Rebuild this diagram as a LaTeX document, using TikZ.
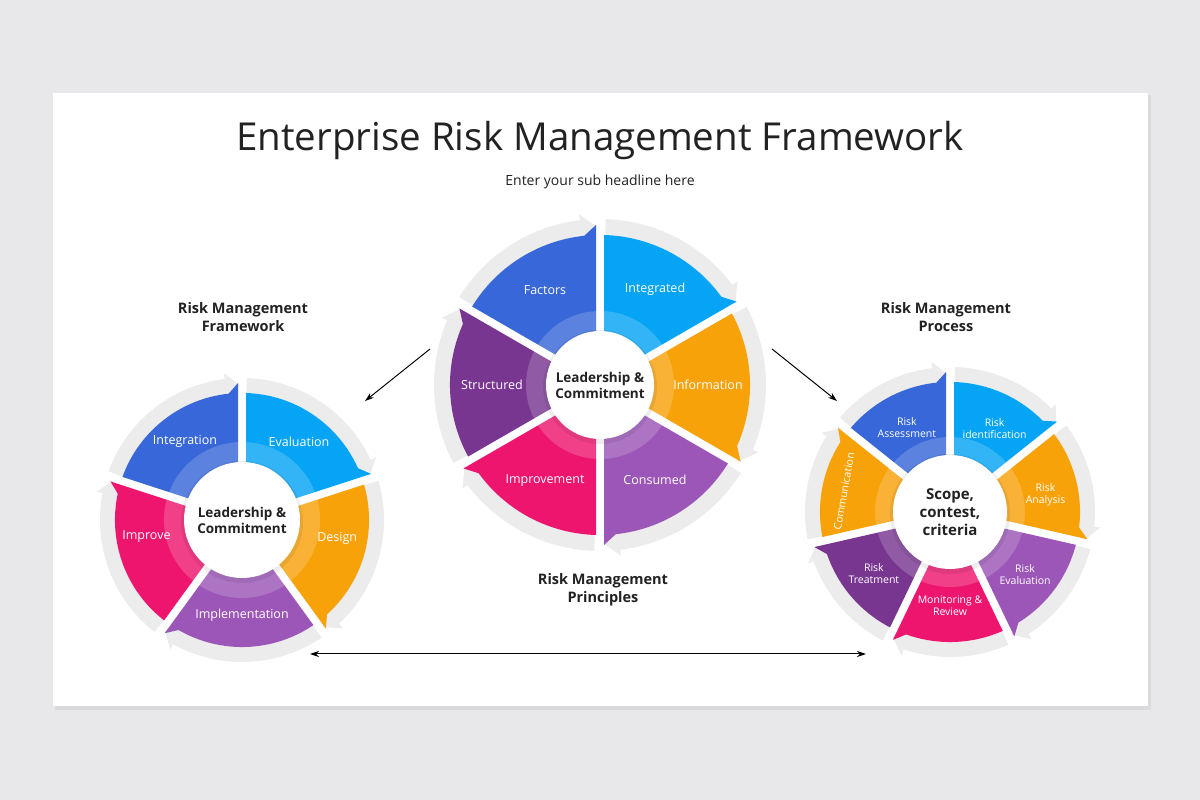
\documentclass[tikz,border=0pt]{standalone}
\usepackage{fontspec}
\setmainfont{Open Sans}
\usetikzlibrary{calc,arrows.meta}
\definecolor{bgc}{HTML}{E8E7E9}
\definecolor{ringc}{HTML}{ECECEC}
\definecolor{cblue}{HTML}{3867D9}
\definecolor{clblue}{HTML}{06A4F5}
\definecolor{corange}{HTML}{F8A20A}
\definecolor{cpurple}{HTML}{9C56B8}
\definecolor{cpink}{HTML}{EE156F}
\definecolor{cdpurple}{HTML}{793691}
\definecolor{txt}{HTML}{222222}
\tikzset{
  lab/.style={text=white,align=center,font=\fontsize{12.5}{13}\selectfont},
  slab/.style={text=white,align=center,font=\fontsize{10.5}{12}\selectfont},
  head/.style={text=txt,align=center,font=\fontsize{14.5}{18}\selectfont\bfseries},
  hub/.style={text=txt,align=center,font=\fontsize{13.5}{16}\selectfont\bfseries},
  conn/.style={-{Stealth[length=9pt,width=6pt]},line width=1pt,black}
}
\newcommand\wheelsegs[4]{% ro, rg, ri, list a/b/col
  \foreach \a/\b/\col in {#4}{
    \pgfmathsetmacro\da{4/#1*57.3}
    \pgfmathsetmacro\gs{\a-2}
    \pgfmathsetmacro\ge{\b+7}
    \fill[ringc] ({\gs}:#1) arc[start angle=\gs,end angle=\ge,radius=#1]
      -- ({\ge}:{#1-5}) -- ({\b+1}:{(#1+#2)/2}) -- ({\ge}:{#2+6}) -- ({\ge}:#2)
      arc[start angle=\ge,end angle=\gs,radius=#2] -- cycle;
    \fill[\col] ($({\a}:#3)+({\a-90}:4)$) -- ($({\a}:#1)+({\a-90}:4)$)
      arc[start angle=\a-\da,end angle=\b+6,radius=#1]
      -- ($({\b}:{#1+10})+({\b+90}:4)$) -- ($({\b}:#3)+({\b+90}:4)$) -- cycle;
  }
}
\newcommand\hubdisc[2]{%
  \fill[white,opacity=.18] (0,0) circle (#1);
  \fill[black,opacity=.07] (0,-2) circle (#2+3);
  \fill[white] (0,0) circle (#2);
}
\begin{document}
\begin{tikzpicture}[x=1pt,y=1pt]
\fill[bgc] (0,0) rectangle (1200,800);
\useasboundingbox (0,0) rectangle (1200,800);
\fill[black,opacity=.06] (55,90) rectangle (1151,705);
\fill[white] (53,94) rectangle (1148,707);
\node[text=txt,font=\fontsize{38.5}{42}\selectfont] (title) at (600,659) {Enterprise Risk Management Framework};
\node[text=txt,font=\fontsize{14}{16}\selectfont] (sub) at (600,618) {Enter your sub headline here};
\node[head] (h1) at (243,483) {Risk Management\\Framework};
\node[head] (h2) at (946,483) {Risk Management\\Process};
\node[head] (h3) at (603,210) {Risk Management\\Principles};
% center wheel
\begin{scope}[shift={(600,415)}]
\wheelsegs{150}{166}{30}{90/30/clblue,30/-30/corange,-30/-90/cpurple,-90/-150/cpink,-150/-210/cdpurple,150/90/cblue}
\hubdisc{74}{54}
\node[hub] (hc) at (0,0) {Leadership \&\\Commitment};
\node[lab] at (60:110) {Integrated};
\node[lab] at (0:108) {Information};
\node[lab] at (-60:110) {Consumed};
\node[lab] at (-120:110) {Improvement};
\node[lab] at (180:108) {Structured};
\node[lab] at (120:110) {Factors};
\end{scope}
% left wheel
\begin{scope}[shift={(242,280)}]
\wheelsegs{127}{142}{30}{90/18/clblue,18/-54/corange,-54/-126/cpurple,-126/-198/cpink,162/90/cblue}
\hubdisc{78}{58}
\node[hub] (hl) at (0,0) {Leadership \&\\Commitment};
\node[lab] at (54:97) {Evaluation};
\node[lab] at (-11:97) {Design};
\node[lab] at (-90:95) {Implementation};
\node[lab] at (190:97) {Improve};
\node[lab] at (126:97) {Integration};
\end{scope}
% right wheel
\begin{scope}[shift={(950,288)}]
\wheelsegs{130}{145}{30}{90/38.57/clblue,38.57/-12.86/corange,-12.86/-64.29/cpurple,-64.29/-115.71/cpink,-115.71/-167.14/cdpurple,-167.14/-218.57/corange,141.43/90/cblue}
\hubdisc{75}{57}
\node[hub,font=\fontsize{15}{18}\selectfont\bfseries] (hr) at (0,0) {Scope,\\contest,\\criteria};
\node[slab] at (62:95) {Risk\\identification};
\node[slab] at (10:97) {Risk\\Analysis};
\node[slab] at (-40:98) {Risk\\Evaluation};
\node[slab] at (-90:94) {Monitoring \&\\Review};
\node[slab] at (-141:98) {Risk\\Treatment};
\node[slab,rotate=80] at (169:108) {Communication};
\node[slab] at (117:95) {Risk\\Assessment};
\end{scope}
\coordinate (p1) at (430,451); \coordinate (q1) at (365,399);
\coordinate (p2) at (772,451); \coordinate (q2) at (837,399);
\coordinate (p3) at (310,146); \coordinate (q3) at (866,146);
\draw[conn] (p1) -- (q1);
\draw[conn] (p2) -- (q2);
\draw[conn,{Stealth[length=9pt,width=6pt]}-{Stealth[length=9pt,width=6pt]}] (p3) -- (q3);
\end{tikzpicture}
\end{document}
